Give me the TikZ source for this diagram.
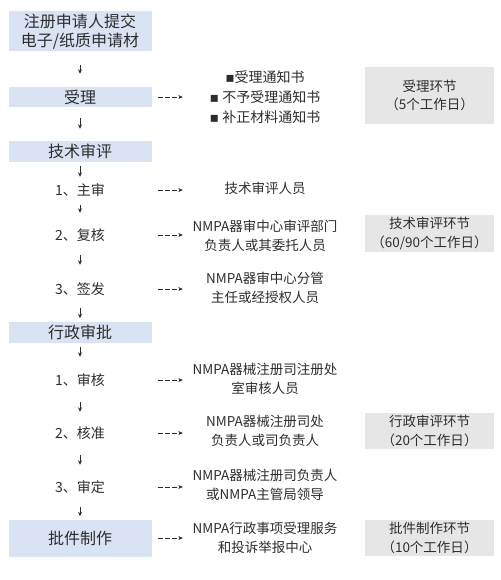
\documentclass[tikz,border=0pt]{standalone}
\usepackage{fontspec}
\usetikzlibrary{arrows.meta}
\setmainfont{Noto Sans CJK SC}
\newfontfamily\symfont{DejaVu Sans}
\definecolor{stepblue}{RGB}{218,227,243}
\definecolor{phasegray}{RGB}{230,230,230}
\definecolor{txtgray}{RGB}{45,45,45}

\begin{document}
\begin{tikzpicture}[x=1pt, y=-1pt,
        every node/.style = {text=txtgray, align=center, inner sep=0pt},
        mainbox/.style = {fill=stepblue, minimum width=143pt,
                          font=\fontsize{16}{19}\selectfont},
        substep/.style = {minimum width=143pt, minimum height=14pt,
                          font=\fontsize{14}{18}\selectfont},
        who/.style = {minimum width=164pt, font=\fontsize{13.5}{18.5}\selectfont},
        phase/.style = {fill=phasegray, minimum width=129pt,
                        font=\fontsize{13.5}{18.5}\selectfont},
        downflow/.style 2 args = {-{Stealth[length=4.5pt,width=4pt]}, line width=0.7pt,
                                  draw=txtgray, shorten <=#1, shorten >=#2},
        tolink/.style = {-{Stealth[length=4.5pt,width=4pt]}, line width=0.7pt, draw=txtgray,
                         dash pattern=on 5pt off 2pt, shorten <=6pt}]
    \useasboundingbox (0,0) rectangle (500,580);

    % left column
    \node[mainbox, minimum height=40pt] (submit) at (80,31.5) {注册申请人提交\\电子/纸质申请材};
    \node[mainbox, minimum height=20pt] (accept) at (80,97) {受理};
    \node[mainbox, minimum height=21pt] (techrev) at (80,151.5) {技术审评};
    \node[substep] (tmain) at (80,190) {1、主审};
    \node[substep] (trecheck) at (80,235) {2、复核};
    \node[substep] (tsign) at (80,289) {3、签发};
    \node[mainbox, minimum height=21pt] (adminrev) at (80,332) {行政审批};
    \node[substep] (areview) at (80,380) {1、审核};
    \node[substep] (aapprove) at (80,433) {2、核准};
    \node[substep] (adecide) at (80,487) {3、审定};
    \node[mainbox, minimum height=37pt] (issue) at (80,538) {批件制作};

    % who does it
    \node[who, font=\fontsize{14}{20}\selectfont] (notice) at (265,97)
        {{\symfont ▪}受理通知书\\{\symfont ▪} 不予受理通知书\\{\symfont ▪} 补正材料通知书};
    \node[who] (treviewer) at (265,188) {技术审评人员};
    \node[who] (tdept) at (265,236) {NMPA器审中心审评部门\\负责人或其委托人员};
    \node[who] (tdirector) at (265,288) {NMPA器审中心分管\\主任或经授权人员};
    \node[who] (aofficer) at (265,379) {NMPA器械注册司注册处\\室审核人员};
    \node[who] (ahead) at (265,431) {NMPA器械注册司处\\负责人或司负责人};
    \node[who] (aleader) at (265,485) {NMPA器械注册司负责人\\或NMPA主管局领导};
    \node[who] (servicectr) at (265,538) {NMPA行政事项受理服务\\和投诉举报中心};

    % time limits
    \node[phase, minimum height=57pt] (acceptphase) at (429.5,95.5) {受理环节\\（5个工作日）};
    \node[phase, minimum height=37pt] (techphase) at (429.5,233.5) {技术审评环节\\（60/90个工作日）};
    \node[phase, minimum height=36pt] (adminphase) at (429.5,431) {行政审评环节\\（20个工作日）};
    \node[phase, minimum height=36pt] (issuephase) at (429.5,538) {批件制作环节\\（10个工作日）};

    % arrows down
    \draw[downflow={13pt}{13pt}] (submit) -- (accept);
    \draw[downflow={11pt}{12pt}] (accept) -- (techrev);
    \draw[downflow={4pt}{6pt}] (techrev) -- (tmain);
    \draw[downflow={8pt}{15pt}] (tmain) -- (trecheck);
    \draw[downflow={13pt}{17pt}] (trecheck) -- (tsign);
    \draw[downflow={12pt}{3pt}] (tsign) -- (adminrev);
    \draw[downflow={4pt}{16pt}] (adminrev) -- (areview);
    \draw[downflow={15pt}{14pt}] (areview) -- (aapprove);
    \draw[downflow={15pt}{15pt}] (aapprove) -- (adecide);
    \draw[downflow={13pt}{3pt}] (adecide) -- (issue);

    % arrows right
    \draw[tolink] (accept.east) -- (accept.east -| notice.west);
    \draw[tolink] (tmain.east) -- (tmain.east -| treviewer.west);
    \draw[tolink] (trecheck.east) -- (trecheck.east -| tdept.west);
    \draw[tolink] (tsign.east) -- (tsign.east -| tdirector.west);
    \draw[tolink] (areview.east) -- (areview.east -| aofficer.west);
    \draw[tolink] (aapprove.east) -- (aapprove.east -| ahead.west);
    \draw[tolink] (adecide.east) -- (adecide.east -| aleader.west);
    \draw[tolink] (issue.east) -- (issue.east -| servicectr.west);
\end{tikzpicture}
\end{document}
